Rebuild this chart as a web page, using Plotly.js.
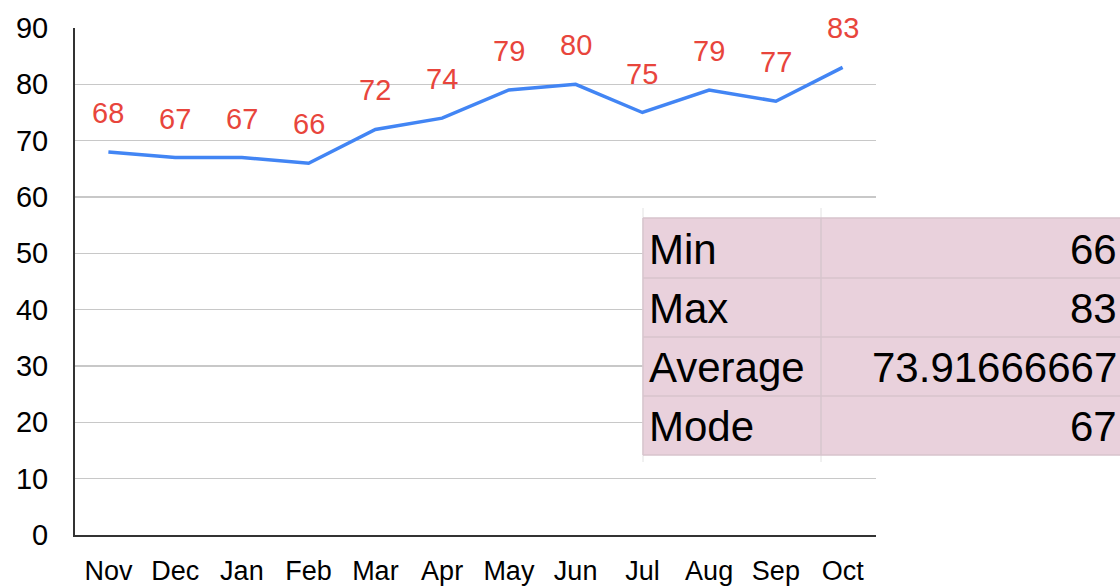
<!DOCTYPE html>
<html>
<head>
<meta charset="utf-8">
<script src="https://cdn.plot.ly/plotly-3.0.1.min.js"></script>
<style>html,body{margin:0;padding:0;background:#fff;}#chart{width:1120px;height:588px;}</style>
</head>
<body>
<div id="chart"></div>
<script>
const months = ['Nov','Dec','Jan','Feb','Mar','Apr','May','Jun','Jul','Aug','Sep','Oct'];
const values = [68, 67, 67, 66, 72, 74, 79, 80, 75, 79, 77, 83];
const yTicks = [0, 10, 20, 30, 40, 50, 60, 70, 80, 90];
const statLabels = ['Min', 'Max', 'Average', 'Mode'];
const statValues = ['66', '83', '73.91666667', '67'];

const W = 1120, H = 588;
const M = {l: 75, r: 244, t: 28, b: 53};
const plotW = W - M.l - M.r, plotH = H - M.t - M.b;
const px = x => (x - M.l) / plotW;
const py = y => (H - M.b - y) / plotH;

const FONT = 'Liberation Sans, Arial, Helvetica, sans-serif';

const annotations = months.map((m, i) => ({
  x: m, y: values[i], xref: 'x', yref: 'y',
  text: String(values[i]), showarrow: false, yshift: 39,
  font: {family: FONT, size: 29, color: '#e8453c'}
}));

// table overlay
const tX0 = 643, tX1 = 1125, tXmid = 821;
const rowEdges = [218, 278, 337, 396, 455];
const shapes = [];
shapes.push({type: 'rect', xref: 'paper', yref: 'paper', x0: px(tX0), x1: px(tX1), y0: py(rowEdges[4]), y1: py(rowEdges[0]),
  fillcolor: '#e9d1dc', line: {width: 0}, layer: 'above'});
// faint spreadsheet grid stubs
[tX0, tXmid].forEach(x => shapes.push({type: 'line', xref: 'paper', yref: 'paper', x0: px(x), x1: px(x), y0: py(462), y1: py(208),
  line: {color: '#e2e2e2', width: 1}, layer: 'above'}));
rowEdges.forEach(y => shapes.push({type: 'line', xref: 'paper', yref: 'paper', x0: px(tX0), x1: px(tX1), y0: py(y), y1: py(y),
  line: {color: '#d7c3cc', width: 1.5}, layer: 'above'}));
[tX0, tXmid].forEach(x => shapes.push({type: 'line', xref: 'paper', yref: 'paper', x0: px(x), x1: px(x), y0: py(rowEdges[4]), y1: py(rowEdges[0]),
  line: {color: '#d7c3cc', width: 1.5}, layer: 'above'}));

statLabels.forEach((lab, i) => {
  const yc = (rowEdges[i] + rowEdges[i + 1]) / 2 + 1;
  annotations.push({xref: 'paper', yref: 'paper', x: px(647), y: py(yc), xanchor: 'left', yanchor: 'middle',
    text: lab, showarrow: false, font: {family: FONT, size: 42, color: '#000'}});
  annotations.push({xref: 'paper', yref: 'paper', x: px(1119), y: py(yc), xanchor: 'right', yanchor: 'middle',
    text: statValues[i], showarrow: false, font: {family: FONT, size: 42, color: '#000'}});
});

const trace = {
  x: months, y: values, type: 'scatter', mode: 'lines',
  line: {color: '#4285f4', width: 3.5}, hoverinfo: 'skip', cliponaxis: false
};

const layout = {
  width: W, height: H,
  margin: M,
  paper_bgcolor: '#fff', plot_bgcolor: '#fff',
  showlegend: false,
  font: {family: FONT, color: '#000'},
  xaxis: {
    type: 'category', range: [-0.5, 11.5], showgrid: false, zeroline: false,
    showline: true, linecolor: '#333', linewidth: 2, ticks: '',
    tickfont: {family: FONT, size: 27, color: '#000'}, ticklabelstandoff: 11, fixedrange: true
  },
  yaxis: {
    range: [0, 90], tickvals: yTicks, ticktext: yTicks.map(String),
    showgrid: true, gridcolor: '#c8c8c8', gridwidth: 1.5, zeroline: false,
    showline: true, linecolor: '#333', linewidth: 2, ticks: '',
    tickfont: {family: FONT, size: 29, color: '#000'}, ticklabelstandoff: 19, fixedrange: true
  },
  annotations: annotations,
  shapes: shapes
};

Plotly.newPlot('chart', [trace], layout, {displayModeBar: false, staticPlot: true});
</script>
</body>
</html>
